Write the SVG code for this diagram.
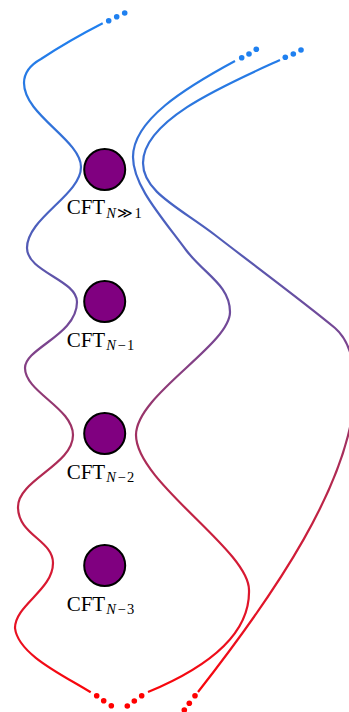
<svg xmlns="http://www.w3.org/2000/svg" width="349" height="712" viewBox="0 0 349 712">
<defs>
<linearGradient id="grad" gradientUnits="userSpaceOnUse" x1="0" y1="0" x2="0" y2="712">
<stop offset="0.028" stop-color="#1f80f0"/>
<stop offset="0.14" stop-color="#2a78e0"/>
<stop offset="0.253" stop-color="#3f68cc"/>
<stop offset="0.365" stop-color="#5858b0"/>
<stop offset="0.478" stop-color="#7a4590"/>
<stop offset="0.59" stop-color="#9a3468"/>
<stop offset="0.702" stop-color="#bb2548"/>
<stop offset="0.815" stop-color="#da1830"/>
<stop offset="0.927" stop-color="#f00c18"/>
<stop offset="1" stop-color="#ff0000"/>
</linearGradient>
</defs>
<style>
.curve{fill:none;stroke:url(#grad);stroke-width:2.2;stroke-linecap:butt}
.td{fill:#1f80f0}
.bd{fill:#ff0000}
.cft{fill:#800080;stroke:#000;stroke-width:2}
.lbl{font-family:"Liberation Serif","Times New Roman",serif;font-size:21px;fill:#000}
.sub{font-size:14.5px}
.it{font-style:italic}
</style>
<g id="connectors">
<path class="curve" d="M102.7,23.3 Q70,40 41,59 C32,64 24,72 24,83 C24,115 81,140 81,167 C81,195 27,218 27,248 C27,272 77,280 77,302 C77,335 25,348 25,368 C25,392 73,408 73,435 C73,465 18,480 18,507 C18,535 53,540 53,563 C53,590 15,605 15,628 C18,655 65,676 90.7,692.3"/>
<path class="curve" d="M235,61 C185,88 133,120 133,157 C133,185 160,215 186,250 C204,274 230,285 230,312 C230,345 136,395 136,435 C136,482 249,550 249,590 C250,625 225,660 148,692"/>
<path class="curve" d="M280,60 C225,85 143,120 143,163 C143,192 180,208 215,235 C255,266 305,303 335,328 C350,341 355,365 355,385 C355,480 270,600 198,692"/>
<g id="top-dots">
<circle class="td" cx="108.7" cy="20.7" r="2.8"/>
<circle class="td" cx="116.7" cy="16.7" r="2.8"/>
<circle class="td" cx="124.7" cy="13" r="2.8"/>
<circle class="td" cx="241.7" cy="57.7" r="2.8"/>
<circle class="td" cx="249" cy="54" r="2.8"/>
<circle class="td" cx="256.3" cy="49.3" r="2.8"/>
<circle class="td" cx="285.3" cy="57.3" r="2.8"/>
<circle class="td" cx="293.3" cy="54" r="2.8"/>
<circle class="td" cx="301" cy="50" r="2.8"/>
</g>
<g id="bottom-dots">
<circle class="bd" cx="96.7" cy="695.7" r="2.8"/>
<circle class="bd" cx="103.7" cy="700.7" r="2.8"/>
<circle class="bd" cx="111.3" cy="705.7" r="2.8"/>
<circle class="bd" cx="141.7" cy="695.7" r="2.8"/>
<circle class="bd" cx="134.3" cy="701" r="2.8"/>
<circle class="bd" cx="127.3" cy="706" r="2.8"/>
<circle class="bd" cx="195" cy="695.7" r="2.8"/>
<circle class="bd" cx="189.3" cy="703.3" r="2.8"/>
<circle class="bd" cx="184.3" cy="710" r="2.8"/>
</g>
</g>
<g id="cft1">
<circle class="cft" cx="104.7" cy="169.5" r="20.5"/>
<text class="lbl" x="66.7" y="214">CFT<tspan class="sub it" dx="1" dy="3.5">N</tspan><tspan class="sub" dx="1.5">≫</tspan><tspan class="sub" dx="1">1</tspan></text>
</g>
<g id="cft2">
<circle class="cft" cx="104.7" cy="301.5" r="20.5"/>
<text class="lbl" x="66.7" y="346.5">CFT<tspan class="sub it" dx="1" dy="3.5">N</tspan><tspan class="sub" dx="1.5">−</tspan><tspan class="sub" dx="1.5">1</tspan></text>
</g>
<g id="cft3">
<circle class="cft" cx="104.7" cy="433.5" r="20.5"/>
<text class="lbl" x="66.7" y="478.5">CFT<tspan class="sub it" dx="1" dy="3.5">N</tspan><tspan class="sub" dx="1.5">−</tspan><tspan class="sub" dx="1.5">2</tspan></text>
</g>
<g id="cft4">
<circle class="cft" cx="104.7" cy="565.5" r="20.5"/>
<text class="lbl" x="66.7" y="610.5">CFT<tspan class="sub it" dx="1" dy="3.5">N</tspan><tspan class="sub" dx="1.5">−</tspan><tspan class="sub" dx="1.5">3</tspan></text>
</g>
</svg>
